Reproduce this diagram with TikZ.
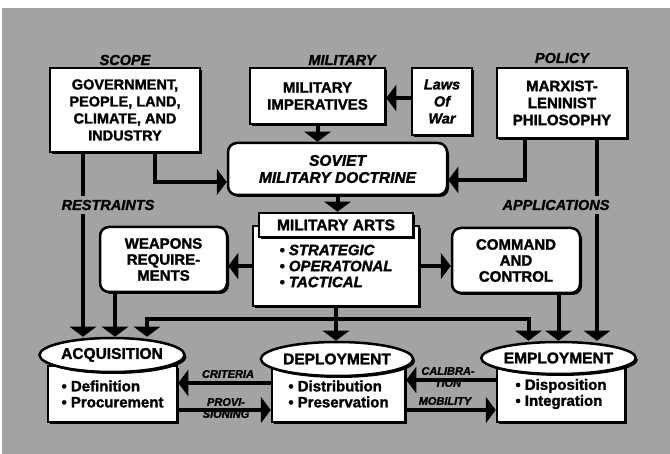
\documentclass[tikz,border=0pt]{standalone}
\usepackage{fontspec}
\setmainfont{Liberation Sans}[BoldFeatures={FakeBold=1.6}, BoldItalicFeatures={FakeBold=1.6}]
\usetikzlibrary{arrows.meta,shapes.geometric,shadows}

\definecolor{screen}{rgb}{0.64,0.64,0.64}

\tikzset{
  box/.style={draw, line width=2.5pt, fill=white, align=center, inner sep=2pt,
    font=\bfseries\fontsize{15}{17}\selectfont,
    drop shadow={shadow xshift=2pt, shadow yshift=-2pt, fill=black, opacity=1}},
  rbox/.style={box, rounded corners=9pt},
  oval/.style={box, ellipse, inner sep=0pt, font=\bfseries\fontsize{15.5}{17}\selectfont},
  lbl/.style={font=\bfseries\itshape\fontsize{14.5}{16}\selectfont},
  tag/.style={font=\bfseries\itshape\fontsize{11}{12}\selectfont, align=center, inner sep=1pt},
  arr/.style={line width=4pt, -{Triangle[width=26pt,length=10pt]}},
}

\begin{document}
\begin{tikzpicture}[x=1pt, y=-1pt]

  \useasboundingbox (0,0) rectangle (670,454);
  \fill[white] (0,0) rectangle (670,454);
  \fill[screen] (2,8) rectangle (670,454);

  % top row
  \node[box, minimum width=150pt, minimum height=84pt, font=\bfseries\fontsize{14.5}{17}\selectfont] (govt) at (125,110) {GOVERNMENT,\\PEOPLE, LAND,\\CLIMATE, AND\\INDUSTRY};
  \node[box, minimum width=135pt, minimum height=56pt] (mil-imp) at (317.5,96) {MILITARY\\IMPERATIVES};
  \node[box, minimum width=60pt, minimum height=67pt, font=\bfseries\itshape\fontsize{14.5}{17}\selectfont] (laws-war) at (442,101.5) {Laws\\Of\\War};
  \node[box, minimum width=130pt, minimum height=70pt] (marx) at (562,103) {MARXIST-\\LENINIST\\PHILOSOPHY};

  \node[rbox, minimum width=219pt, minimum height=52pt, font=\bfseries\itshape\fontsize{15.5}{17}\selectfont] (doctrine) at (337.5,169) {SOVIET\\MILITARY DOCTRINE};

  % middle row
  \node[box, minimum width=166pt, minimum height=80pt, align=left, font=\bfseries\itshape\fontsize{15}{16}\selectfont] (arts) at (336,266) {\textbullet\ STRATEGIC\\\textbullet\ OPERATONAL\\\textbullet\ TACTICAL};
  \node[box, minimum width=154pt, minimum height=24pt, inner sep=0pt, font=\bfseries\fontsize{15.5}{17}\selectfont] (arts-head) at (336,225) {MILITARY ARTS};
  \node[rbox, minimum width=127pt, minimum height=65pt, font=\bfseries\fontsize{15}{16}\selectfont] (weapons) at (163.5,259.5) {WEAPONS\\REQUIRE-\\MENTS};
  \node[rbox, minimum width=128pt, minimum height=65pt, font=\bfseries\fontsize{15}{16}\selectfont] (command) at (516,260.5) {COMMAND\\AND\\CONTROL};

  % bottom row
  \node[box, minimum width=129pt, minimum height=56pt, align=left, font=\bfseries\fontsize{15}{16}\selectfont] (acq-box) at (112.5,394) {\textbullet\ Definition\\\textbullet\ Procurement};
  \node[oval, minimum width=145pt, minimum height=34pt] (acq) at (112,355) {ACQUISITION};
  \node[box, minimum width=133pt, minimum height=56pt, align=left, font=\bfseries\fontsize{15}{16}\selectfont] (dep-box) at (338.5,394) {\textbullet\ Distribution\\\textbullet\ Preservation};
  \node[oval, minimum width=147pt, minimum height=34pt] (dep) at (337,359) {DEPLOYMENT};
  \node[box, minimum width=128pt, minimum height=56pt, align=left, font=\bfseries\fontsize{15}{16}\selectfont] (emp-box) at (561,394) {\textbullet\ Disposition\\\textbullet\ Integration};
  \node[oval, minimum width=143pt, minimum height=32pt] (emp) at (558.5,358) {EMPLOYMENT};

  \coordinate (restr) at ([xshift=-42pt]govt.south);
  \coordinate (appl) at ([xshift=35pt]marx.south);
  \coordinate (wpn) at ([xshift=-48.5pt]weapons.south);
  \coordinate (bus) at (arts.south |- 0,319);

  % into the doctrine
  \draw[arr] ([yshift=3.5pt]laws-war.west) -- ([yshift=3.5pt]laws-war.west -| mil-imp.east);
  \draw[arr] (mil-imp.south) -- (mil-imp.south |- doctrine.north);
  \draw[arr] ([xshift=30pt]govt.south) |- ([yshift=-13pt]doctrine.west);
  \draw[arr] ([xshift=-37pt]marx.south) |- ([yshift=-11pt]doctrine.east);
  \draw[arr] (doctrine.south) -- (doctrine.south |- arts-head.north);
  \draw[arr] (arts.west) -- (arts.west -| weapons.east);
  \draw[arr] (arts.east) -- (arts.east -| command.west);

  % down to the three phases
  \draw[arr] (restr) -- (restr |- acq.north);
  \draw[arr] (wpn) -- (wpn |- acq.north);
  \draw[arr] (arts.south) -- (arts.south |- dep.north);
  \draw[arr] (bus) -| ([xshift=35pt]acq.north);
  \draw[arr] (bus) -| ([xshift=-30pt]emp.north);
  \draw[arr] (command.south -| emp.north) -- (emp.north);
  \draw[arr] (appl) -- (appl |- emp.north);

  % between the phases
  \draw[arr] ([yshift=11pt]dep-box.west) -- ([yshift=11pt]acq-box.east);
  \draw[arr] ([yshift=-16pt]acq-box.east) -- ([yshift=-16pt]dep-box.west);
  \draw[arr] ([yshift=14pt]emp-box.west) -- ([yshift=14pt]dep-box.east);
  \draw[arr] ([yshift=-16pt]dep-box.east) -- ([yshift=-16pt]emp-box.west);

  % labels
  \node[lbl] (scope) at (125,60) {SCOPE};
  \node[lbl] (military) at (342,60) {MILITARY};
  \node[lbl] (policy) at (562,58) {POLICY};
  \node[lbl, fill=screen, inner xsep=1pt, inner ysep=4pt] (restraints) at (108,205) {RESTRAINTS};
  \node[lbl, fill=screen, inner xsep=1pt, inner ysep=4pt] (applications) at (556,205) {APPLICATIONS};
  \node[tag] (criteria) at (228,374) {CRITERIA};
  \node[tag] (provis) at (226,408) {PROVI-\\SIONING};
  \node[tag] (calib) at (448,377) {CALIBRA-\\TION};
  \node[tag] (mobility) at (445,401) {MOBILITY};

\end{tikzpicture}
\end{document}
